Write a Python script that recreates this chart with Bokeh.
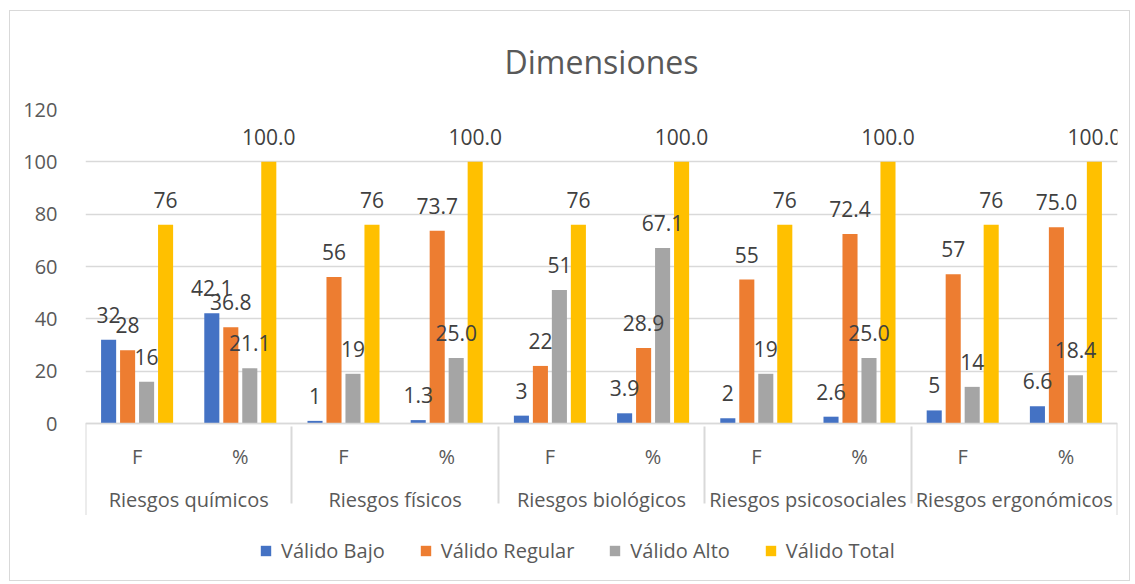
from bokeh.plotting import figure
from bokeh.models import (ColumnDataSource, FactorRange, Range1d, Legend, LegendItem,
                          LabelSet, FixedTicker, CategoricalAxis)
from bokeh.core.properties import value
from bokeh.transform import dodge
from bokeh.embed import file_html
from bokeh.resources import INLINE

groups = ["Riesgos químicos", "Riesgos físicos", "Riesgos biológicos",
          "Riesgos psicosociales", "Riesgos ergonómicos"]
subs = ["F", "%"]
series_names = ["Válido Bajo", "Válido Regular", "Válido Alto", "Válido Total"]
colors = ["#4472C4", "#ED7D31", "#A5A5A5", "#FFC000"]

bajo = [32, 42.1, 1, 1.3, 3, 3.9, 2, 2.6, 5, 6.6]
regular = [28, 36.8, 56, 73.7, 22, 28.9, 55, 72.4, 57, 75.0]
alto = [16, 21.1, 19, 25.0, 51, 67.1, 19, 25.0, 14, 18.4]
total = [76, 100.0, 76, 100.0, 76, 100.0, 76, 100.0, 76, 100.0]
y_ticks = [0, 20, 40, 60, 80, 100, 120]

factors = [(g, s) for g in groups for s in subs]
series = [bajo, regular, alto, total]

FONT = "Open Sans"
p = figure(x_range=FactorRange(*factors, range_padding=0, factor_padding=0,
                               group_padding=0, subgroup_padding=0),
           y_range=Range1d(-60, 120), frame_width=1032, frame_height=471,
           output_backend="svg", toolbar_location=None,
           min_border_left=75, min_border_right=12, min_border_top=98,
           min_border_bottom=0, x_axis_location=None)
p.margin = (10, 0, 0, 9)
p.styles = {"border": "1px solid #d9d9d9"}
p.outline_line_color = None

p.title.text = "Dimensiones"
p.title.align = "center"
p.title.text_font = FONT
p.title.text_font_size = "32px"
p.title.text_font_style = "normal"
p.title.text_line_height = 1.0
p.title.text_color = "#595959"
p.title.standoff = 53

offsets = [-0.276, -0.092, 0.092, 0.276]
items = []
for name, vals, col, off in zip(series_names, series, colors, offsets):
    labels = []
    for (g, s), v in zip(factors, vals):
        labels.append(f"{v:.0f}" if s == "F" else f"{v:.1f}")
    src = ColumnDataSource(dict(x=factors, top=vals, label=labels))
    r = p.vbar(x=dodge("x", off, range=p.x_range), top="top", bottom=0, width=0.146,
               source=src, fill_color=col, line_color=None)
    items.append(LegendItem(label=name, renderers=[r]))
    ls = LabelSet(x=dodge("x", off, range=p.x_range), y="top", text="label",
                  source=src, text_align="center", text_baseline="bottom",
                  y_offset=17, text_font=value(FONT), text_font_size=value("21px"),
                  text_color="#404040")
    p.add_layout(ls)

# outer separator lines at both ends of the category axis
p.segment(x0=[0, len(factors)], x1=[0, len(factors)], y0=[0, 0], y1=[-35, -35],
          line_color="#d9d9d9", line_width=2)

xaxis = CategoricalAxis(fixed_location=0)
xaxis.axis_line_color = "#d9d9d9"
xaxis.axis_line_width = 1.5
xaxis.major_tick_line_color = None
xaxis.minor_tick_line_color = None
xaxis.major_label_text_font = FONT
xaxis.major_label_text_font_size = "20px"
xaxis.major_label_text_color = "#595959"
xaxis.major_label_standoff = 13
xaxis.group_text_font = FONT
xaxis.group_text_font_size = "20px"
xaxis.group_text_font_style = "normal"
xaxis.group_text_color = "#595959"
xaxis.separator_line_color = "#d9d9d9"
xaxis.separator_line_width = 2
p.add_layout(xaxis, "below")

p.yaxis.ticker = FixedTicker(ticks=y_ticks)
p.yaxis.axis_line_color = None
p.yaxis.major_tick_line_color = None
p.yaxis.minor_tick_line_color = None
p.yaxis.major_label_text_font = FONT
p.yaxis.major_label_text_font_size = "20px"
p.yaxis.major_label_text_color = "#595959"
p.yaxis.major_label_standoff = 22
p.ygrid.ticker = FixedTicker(ticks=y_ticks)
p.ygrid.grid_line_color = "#d9d9d9"
p.ygrid.grid_line_width = 1.5
p.xgrid.grid_line_color = None

legend = Legend(items=items, orientation="horizontal", location=(174, 16),
                border_line_color=None, background_fill_alpha=0,
                label_text_font=FONT, label_text_font_size="20px",
                label_text_color="#595959", glyph_width=13, glyph_height=13,
                spacing=34, label_standoff=9, padding=2, margin=0)
p.add_layout(legend)

open("out.html", "w").write(file_html(p, INLINE))
